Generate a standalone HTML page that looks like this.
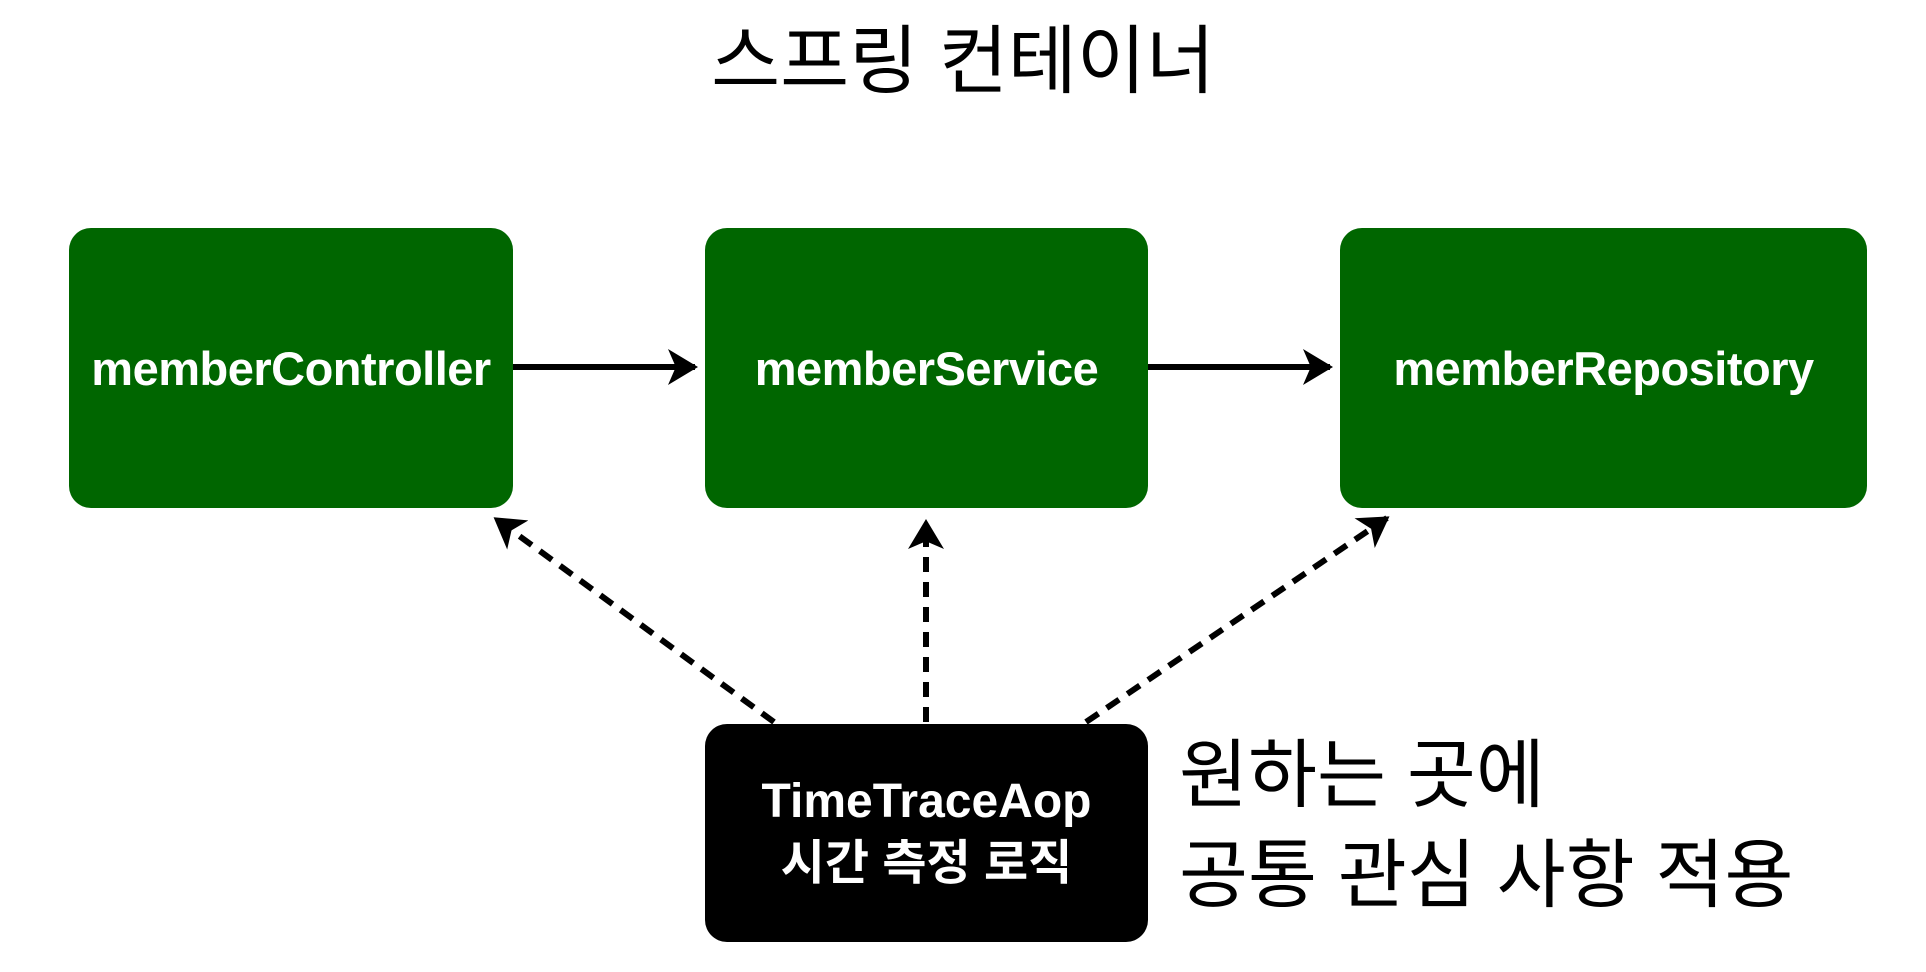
<!DOCTYPE html>
<html><head><meta charset="utf-8"><style>
body{margin:0;width:1926px;height:972px;background:#fff;overflow:hidden;position:relative;font-family:"Liberation Sans","Noto Sans CJK KR",sans-serif}
.b{position:absolute;border-radius:22px;color:#fff;font-weight:bold;display:flex;align-items:center;justify-content:center;text-align:center}
.t{position:absolute;white-space:nowrap;color:#000}
</style></head><body>
<div class="t" style="left:0;width:1926px;text-align:center;top:16px;font-size:75px;line-height:90px">스프링 컨테이너</div>
<div class="b" style="left:69px;top:228px;width:444px;height:280px;background:#006600;font-size:47px;letter-spacing:-0.5px">memberController</div>
<div class="b" style="left:705px;top:228px;width:443px;height:280px;background:#006600;font-size:47px;letter-spacing:-0.5px">memberService</div>
<div class="b" style="left:1340px;top:228px;width:527px;height:280px;background:#006600;font-size:47px;letter-spacing:-0.5px">memberRepository</div>
<div class="b" style="left:705px;top:724px;width:443px;height:218px;background:#000;font-size:48px;line-height:62px"><div style="white-space:nowrap">TimeTraceAop<br>시간 측정 로직</div></div>
<div class="t" style="left:1179px;top:730px;font-size:75px;line-height:90px">원하는 곳에</div>
<div class="t" style="left:1179px;top:830px;font-size:75px;line-height:90px">공통 관심 사항 적용</div>
<svg width="1926" height="972" style="position:absolute;left:0;top:0">
<defs><marker id="a" markerWidth="6" markerHeight="6" refX="4.5" refY="3" orient="auto" markerUnits="strokeWidth"><path d="M0,0 L5,3 L0,6 L1.3,3 Z" fill="#000"/></marker></defs>
<g stroke="#000" stroke-width="6" fill="none">
<line x1="513" y1="367" x2="695" y2="367" marker-end="url(#a)"/>
<line x1="1148" y1="367" x2="1330" y2="367" marker-end="url(#a)"/>
<g stroke-dasharray="15,10">
<line x1="774" y1="722" x2="496" y2="519" marker-end="url(#a)"/>
<line x1="926" y1="722" x2="926" y2="522" marker-end="url(#a)"/>
<line x1="1086" y1="722" x2="1387" y2="518" marker-end="url(#a)"/>
</g></g></svg>
</body></html>
